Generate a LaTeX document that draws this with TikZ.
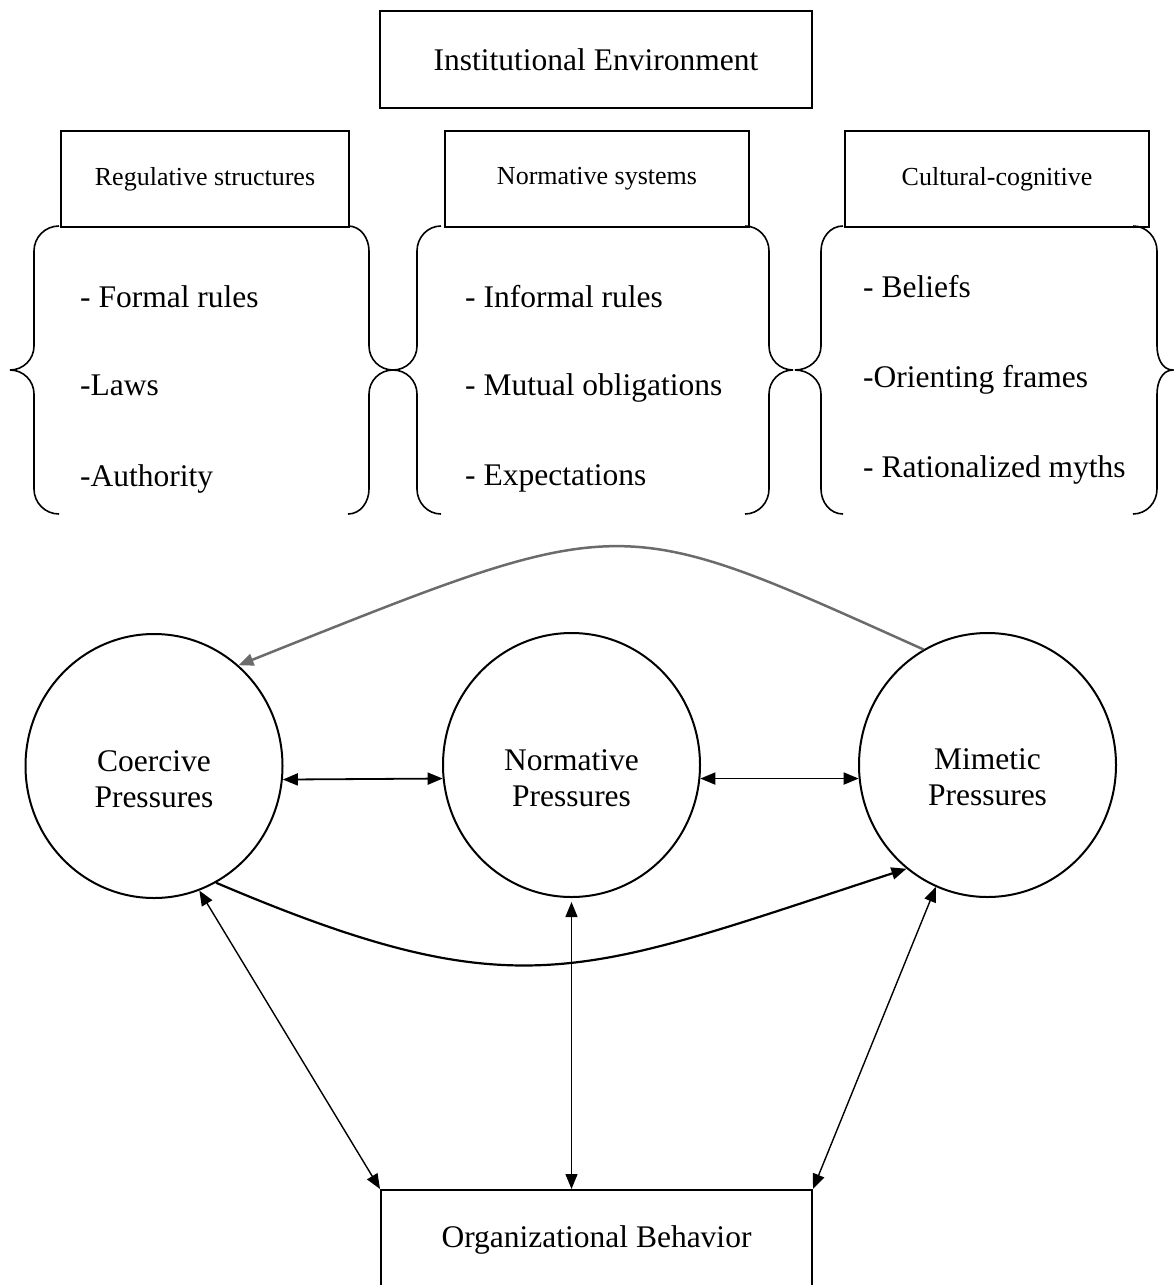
\documentclass[tikz,border=0pt]{standalone}
\usepackage{fontspec}
\setmainfont{Liberation Serif}
\usetikzlibrary{arrows.meta,shapes.geometric,calc}
\definecolor{topgray}{gray}{0.42}
% #1 end x, #2 vertical x, #3 point x, #4 direction towards point, #5 opposite direction
\newcommand\mybrace[5]{\draw[bracestyle] (#1,226) to[out=#4,in=90] (#2,251) -- (#2,346) to[out=-90,in=#5] (#3,370) to[out=#5,in=90] (#2,394) -- (#2,489) to[out=-90,in=#4] (#1,514);}
\begin{document}
\begin{tikzpicture}[x=1pt,y=-1pt,
  box/.style={draw, line width=2pt, inner sep=0, anchor=north west},
  big/.style={font=\fontsize{31.5}{36}\selectfont},
  small/.style={font=\fontsize{26}{30}\selectfont},
  item/.style={big, anchor=base west, inner sep=0},
  press/.style={draw, ellipse, line width=2pt, minimum width=257pt, minimum height=264pt, inner sep=0},
  ptext/.style={big, align=center, inner sep=0},
  tip/.style={-{Triangle[length=15pt,width=12pt]}},
  dtip/.style={{Triangle[length=15pt,width=12pt]}-{Triangle[length=15pt,width=12pt]}},
  bracestyle/.style={line width=1.6pt}
]
\useasboundingbox (0,0) rectangle (1174,1285);
\clip (0,0) rectangle (1174,1285);

% top boxes
\node[box, big, minimum width=432pt, minimum height=97pt] (inst) at (379,10) {Institutional Environment};
\node[box, small, minimum width=288pt, minimum height=96pt] (reg) at (60,130) {Regulative structures};
\node[box, small, minimum width=304pt, minimum height=96pt] (nsys) at (444,130) {Normative systems};
\node[box, small, minimum width=304pt, minimum height=96pt] (cult) at (844,130) {Cultural-cognitive};

% braces
\mybrace{59}{34}{10}{180}{0}
\mybrace{348}{369}{393}{0}{180}
\mybrace{441}{417}{393}{180}{0}
\mybrace{745}{769}{793}{0}{180}
\mybrace{843}{821}{795}{180}{0}
\mybrace{1133}{1157}{1173}{0}{180}

% items
\node[item] (i1) at (80,307) {- Formal rules};
\node[item] (i2) at (80,395) {-Laws};
\node[item] (i3) at (80,486) {-Authority};
\node[item] (i4) at (465,307) {- Informal rules};
\node[item] (i5) at (465,395) {- Mutual obligations};
\node[item] (i6) at (465,485) {- Expectations};
\node[item] (i7) at (863,297) {- Beliefs};
\node[item] (i8) at (863,387) {-Orienting frames};
\node[item] (i9) at (863,477) {- Rationalized myths};

% pressures
\node[press] (coer) at (154,766) {};
\node[press] (norm) at (571.5,765) {};
\node[press] (mim) at (987.5,765) {};
\node[ptext] (coerT) at (154,779) {Coercive\\Pressures};
\node[ptext] (normT) at (571.5,778) {Normative\\Pressures};
\node[ptext] (mimT) at (987.5,777) {Mimetic\\Pressures};

% organizational behavior
\node[box, big, minimum width=431pt, minimum height=100pt] (org) at (380,1189) {Organizational Behavior};

% connectors
\draw[dtip, line width=1.8pt] (coer.-6) -- (norm.186);
\draw[dtip, line width=1.8pt] (norm.-6) -- (mim.186);
\draw[tip, line width=2.2pt] (coer.-62) .. controls (520,1012) and (580,975) .. (mim.232);
\draw[tip, line width=2.5pt, draw=topgray] (mim.119) .. controls (613,510) and (628,510) .. (coer.50);
\draw[dtip, line width=1.4pt] (coer.-70) -- (org.north west);
\draw[dtip, line width=1.4pt, shorten <=4pt] (norm.south) -- (norm.south |- org.north);
\draw[dtip, line width=1.4pt] (mim.-113) -- (org.north east);
\end{tikzpicture}
\end{document}
